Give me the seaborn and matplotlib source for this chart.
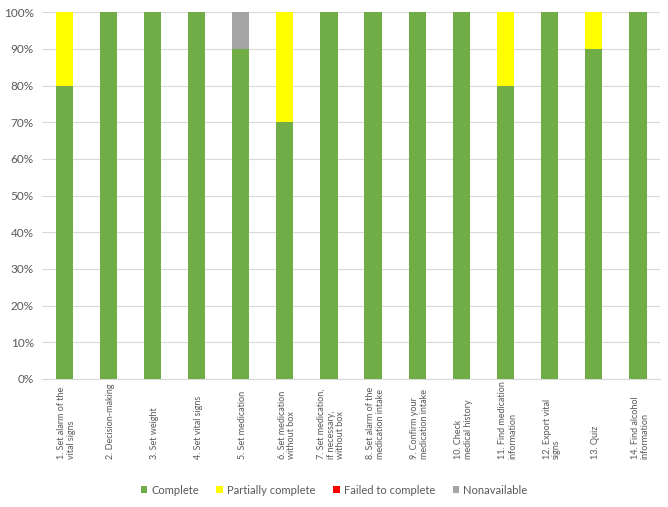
import numpy as np
import pandas as pd
import matplotlib
matplotlib.use("Agg")
import matplotlib.pyplot as plt
import seaborn as sns
from matplotlib.patches import Patch
from matplotlib.ticker import PercentFormatter

# --- DATA ---
tasks = ["1. Set alarm of the\nvital signs", "2. Decision-making", "3. Set weight",
         "4. Set vital signs", "5. Set medication", "6. Set medication\nwithout box",
         "7. Set medication,\nif necessary,\nwithout box", "8. Set alarm of the\nmedication intake",
         "9. Confirm your\nmedication intake", "10. Check\nmedical history",
         "11. Find medication\ninformation", "12. Export vital\nsigns", "13. Quiz",
         "14. Find alcohol\ninformation"]
complete = [80, 100, 100, 100, 90, 70, 100, 100, 100, 100, 80, 100, 90, 100]
partial = [20, 0, 0, 0, 0, 30, 0, 0, 0, 0, 20, 0, 10, 0]
failed = [0] * 14
nonavail = [0, 0, 0, 0, 10, 0, 0, 0, 0, 0, 0, 0, 0, 0]

series = ["Complete", "Partially complete", "Failed to complete", "Nonavailable"]
colors = ["#70AD47", "#FFFF00", "#FF0000", "#A5A5A5"]

df = pd.DataFrame({"task": tasks, "Complete": complete, "Partially complete": partial,
                   "Failed to complete": failed, "Nonavailable": nonavail})
for c in series:
    df[c] = df[c] / 100.0

plt.rcParams['font.family'] = ['Lato', 'DejaVu Sans']

fig = plt.figure(figsize=(6.68, 5.07), dpi=100)
ax = fig.add_axes([0.063, 0.2525, 0.925, 0.7235])

# stacked look: draw cumulative layers, largest first
cum = df[series].cumsum(axis=1)
for name, col in reversed(list(zip(series, colors))):
    sns.barplot(x=df["task"], y=cum[name], color=col, width=0.39, ax=ax,
                saturation=1, edgecolor="none", zorder=3)

ax.set_ylim(0, 1)
ax.set_xlim(-0.5, len(tasks) - 0.5)
ax.set_yticks(np.arange(0, 1.01, 0.1))
ax.yaxis.set_major_formatter(PercentFormatter(1.0, decimals=0))
ax.grid(axis="y", color="#D9D9D9", linewidth=0.8, zorder=0)
ax.set_axisbelow(True)
for s in ["top", "right", "left"]:
    ax.spines[s].set_visible(False)
ax.spines["bottom"].set_color("#D9D9D9")
ax.tick_params(axis="y", length=0, labelsize=8.5, colors="#595959", pad=6)
ax.tick_params(axis="x", length=0)
ax.set_xticks(range(len(tasks)))
ax.set_xticklabels([])
ax.set_xlabel("")
ax.set_ylabel("")

trans = matplotlib.transforms.blended_transform_factory(ax.transData, ax.transAxes)
for i, t in enumerate(tasks):
    ax.text(i + 0.05, -0.218, t, rotation=90, rotation_mode="anchor", ha="left", va="center",
            fontsize=6.5, color="#595959", transform=trans, linespacing=1.1)

handles = [Patch(facecolor=c, edgecolor="none", label=s) for s, c in zip(series, colors)]
fig.legend(handles=handles, loc="center", bbox_to_anchor=(0.5, 0.033), ncol=4,
           frameon=False, fontsize=8, handlelength=0.6, handleheight=0.6,
           handletextpad=0.35, columnspacing=1.6, labelcolor="#595959")

fig.savefig("out.png", dpi=100)
